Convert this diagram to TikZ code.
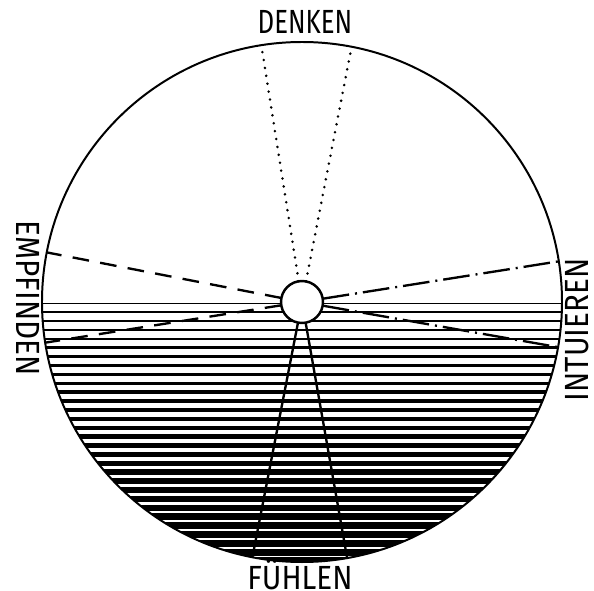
\documentclass[tikz,border=0pt]{standalone}
\usepackage{fontspec}
\setmainfont{Fira Sans}
\usepackage{tikz}
\usetikzlibrary{positioning}
\tikzset{
  rim/.style={circle,draw,line width=1.7pt,minimum size=156mm,inner sep=0pt,outer sep=0pt},
  hub/.style={circle,draw,fill=white,line width=2.1pt,minimum size=12.6mm,inner sep=0pt,outer sep=0pt},
  lbl/.style={font=\fontsize{22}{22}\selectfont,inner sep=0pt,text height=19.7pt,text depth=0pt},
  dotray/.style={line width=2.4pt,line cap=round,dash pattern=on 0pt off 2.4mm},
  dashray/.style={line width=2pt,dash pattern=on 5mm off 3.4mm},
  dotdashray/.style={line width=2pt,dash pattern=on 8mm off 1.8mm on 0.6mm off 1.8mm},
  solray/.style={line width=2pt}
}
\newcommand{\lettering}[2][1]{\scalebox{#1}[1.3]{#2}}

\begin{document}
\begin{tikzpicture}[x=0.3mm,y=0.3mm]
\useasboundingbox (-302,-288) rectangle (292,302);
\node[rim] (rim) at (0,0) {};
% lower half: lines get thicker towards the bottom
\begin{scope}
\clip (0,0) circle (260);
\foreach \k in {0,...,29}
  \draw[line width=(1+0.225*\k)*0.85pt] (-270,{-1-8.9*\k}) -- (270,{-1-8.9*\k});
\end{scope}
\node[hub] (hub) at (0,0) {};
\node[lbl] (denken) at (3,280) {\lettering{DENKEN}};
\node[lbl,rotate=-90] (empfinden) at (-274,4) {\lettering[1.15]{EMPFINDEN}};
\node[lbl,rotate=90] (intuieren) at (275,-28) {\lettering[1.15]{INTUIEREN}};
\node[lbl] (fuehlen) at (-2,-276) {\lettering[1.15]{FÜHLEN}};
\draw[dotray] (hub.99.5) -- (rim.99.5);
\draw[dotray] (hub.79) -- (rim.79);
\draw[dashray] (hub.169.7) -- (rim.169.7);
\draw[dashray] (hub.189) -- (rim.189);
\draw[dotdashray] (hub.9.7) -- (rim.9.7);
\draw[dotdashray] (hub.-10.7) -- (rim.-10.7);
\draw[solray] (hub.259.6) -- (rim.259.6);
\draw[solray] (hub.280.2) -- (rim.280.2);
\end{tikzpicture}
\end{document}
